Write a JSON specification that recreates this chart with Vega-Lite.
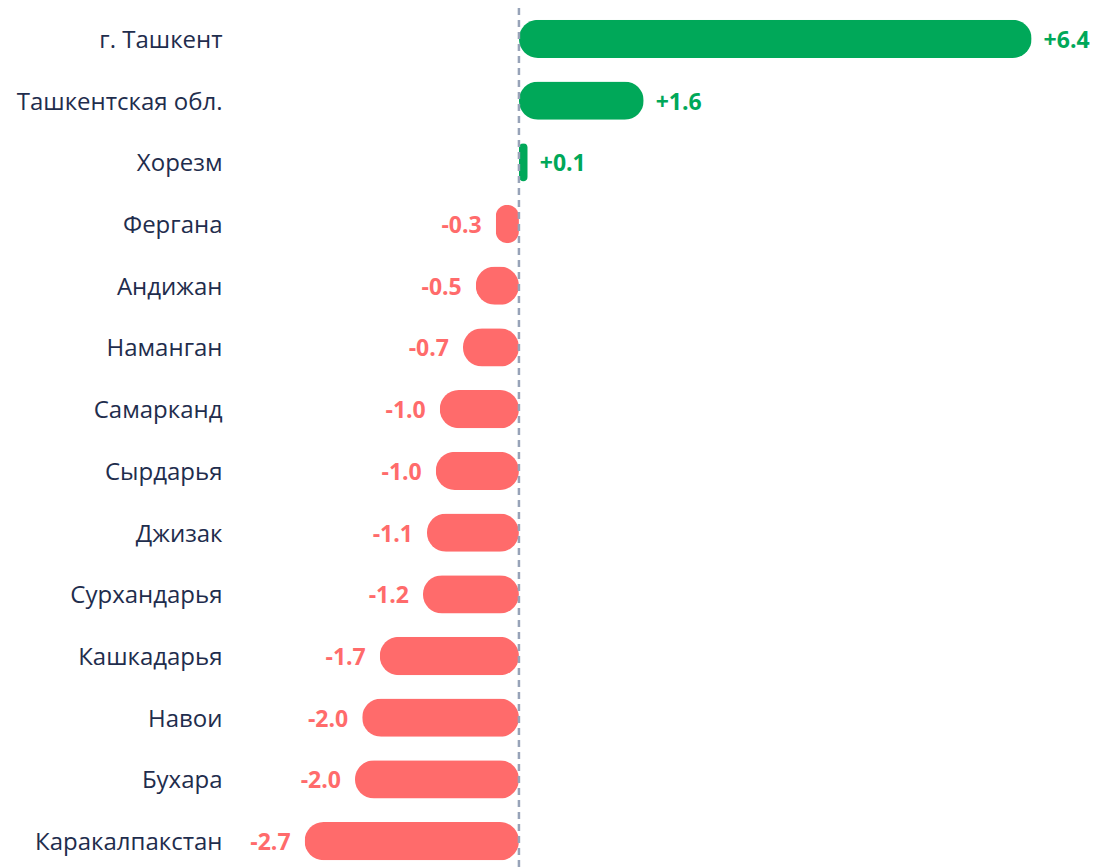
{
  "$schema": "https://vega.github.io/schema/vega-lite/v6.json",
  "width": 859,
  "height": 864,
  "autosize": "none",
  "padding": {"left": 235, "top": 8, "right": 0, "bottom": 0},
  "background": "white",
  "config": {"view": {"stroke": null}, "font": "Open Sans"},
  "data": {
    "values": [
      {"region": "г. Ташкент", "value": 6.41, "label": "+6.4"},
      {"region": "Ташкентская обл.", "value": 1.56, "label": "+1.6"},
      {"region": "Хорезм", "value": 0.11, "label": "+0.1"},
      {"region": "Фергана", "value": -0.29, "label": "-0.3"},
      {"region": "Андижан", "value": -0.54, "label": "-0.5"},
      {"region": "Наманган", "value": -0.70, "label": "-0.7"},
      {"region": "Самарканд", "value": -0.99, "label": "-1.0"},
      {"region": "Сырдарья", "value": -1.04, "label": "-1.0"},
      {"region": "Джизак", "value": -1.15, "label": "-1.1"},
      {"region": "Сурхандарья", "value": -1.20, "label": "-1.2"},
      {"region": "Кашкадарья", "value": -1.74, "label": "-1.7"},
      {"region": "Навои", "value": -1.96, "label": "-2.0"},
      {"region": "Бухара", "value": -2.05, "label": "-2.0"},
      {"region": "Каракалпакстан", "value": -2.68, "label": "-2.7"}
    ]
  },
  "encoding": {
    "y": {
      "field": "region",
      "type": "nominal",
      "sort": ["г. Ташкент", "Ташкентская обл.", "Хорезм", "Фергана", "Андижан", "Наманган", "Самарканд", "Сырдарья", "Джизак", "Сурхандарья", "Кашкадарья", "Навои", "Бухара", "Каракалпакстан"],
      "scale": {"paddingInner": 0.38, "paddingOuter": 0.19},
      "axis": {
        "title": null,
        "ticks": false,
        "domain": false,
        "labelFontSize": 24,
        "labelColor": "#1f2d4d",
        "labelPadding": 13,
        "labelOffset": 2,
        "labelLimit": 400,
        "labelFont": "Open Sans"
      }
    }
  },
  "layer": [
    {
      "mark": {"type": "bar", "cornerRadius": 19},
      "encoding": {
        "x": {
          "field": "value",
          "type": "quantitative",
          "scale": {"domain": [-3.55, 7.19], "nice": false, "zero": false},
          "axis": null
        },
        "color": {
          "condition": {"test": "datum.value >= 0", "value": "#00a859"},
          "value": "#ff6b6b"
        }
      }
    },
    {
      "data": {"values": [{"zero": 0}]},
      "mark": {"type": "rule", "color": "#97a3b8", "strokeWidth": 2.5, "strokeDash": [7, 5]},
      "encoding": {
        "x": {"field": "zero", "type": "quantitative"},
        "y": null
      }
    },
    {
      "transform": [{"filter": "datum.value >= 0"}],
      "mark": {"type": "text", "align": "left", "dx": 12, "dy": 2, "fontSize": 23, "fontWeight": "bold", "color": "#00a859", "baseline": "middle"},
      "encoding": {
        "x": {"field": "value", "type": "quantitative"},
        "text": {"field": "label"}
      }
    },
    {
      "transform": [{"filter": "datum.value < 0"}],
      "mark": {"type": "text", "align": "right", "dx": -14, "dy": 2, "fontSize": 23, "fontWeight": "bold", "color": "#ff6b6b", "baseline": "middle"},
      "encoding": {
        "x": {"field": "value", "type": "quantitative"},
        "text": {"field": "label"}
      }
    }
  ]
}
